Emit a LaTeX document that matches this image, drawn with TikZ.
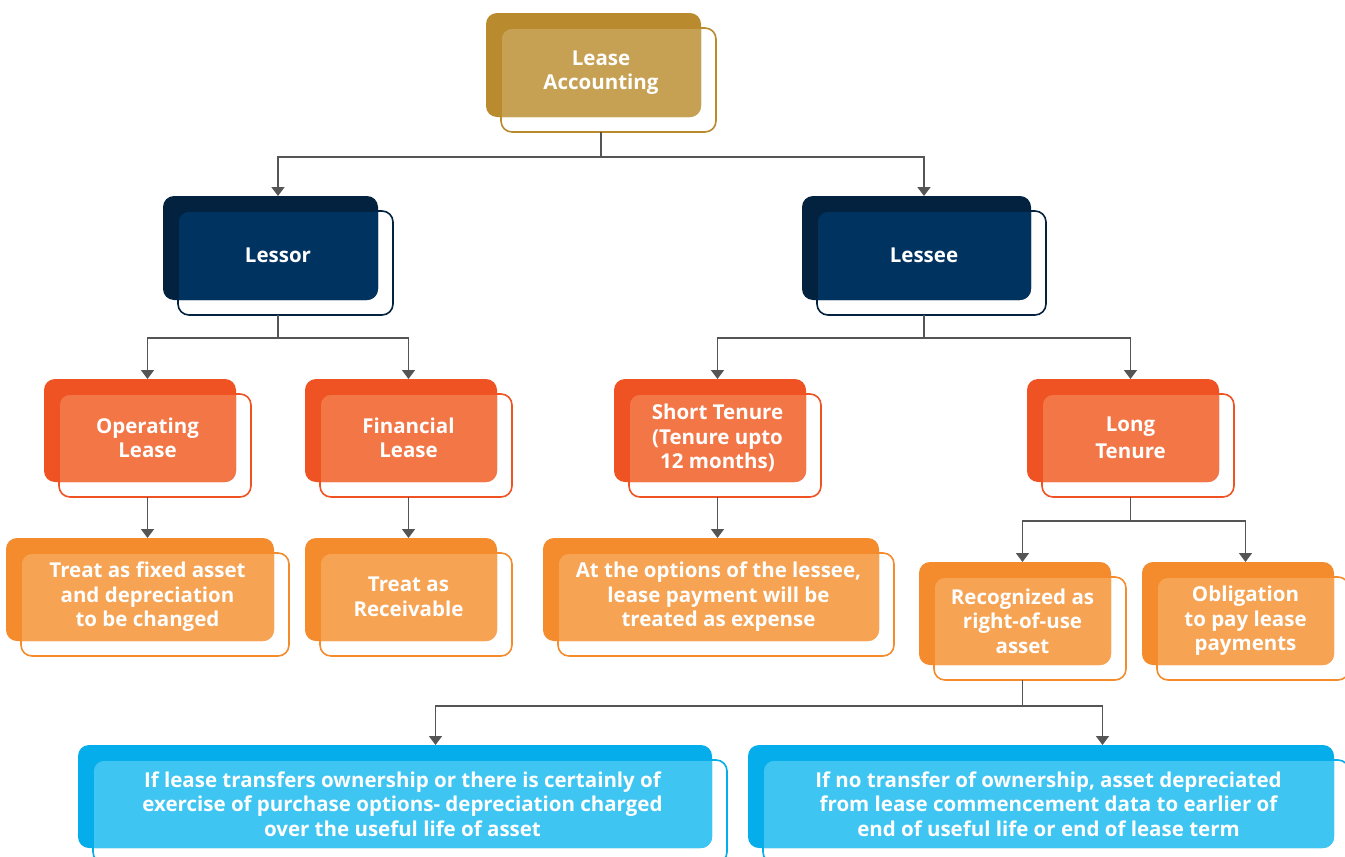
\documentclass[tikz,border=0pt]{standalone}
\usepackage{fontspec}
\setmainfont{Open Sans}
\usetikzlibrary{arrows.meta,calc}
\definecolor{goldD}{HTML}{B98B2E}
\definecolor{goldL}{HTML}{C6A153}
\definecolor{navyD}{HTML}{02223F}
\definecolor{navyL}{HTML}{013361}
\definecolor{redD}{HTML}{F05323}
\definecolor{redL}{HTML}{F37647}
\definecolor{orD}{HTML}{F48B2C}
\definecolor{orL}{HTML}{F6A354}
\definecolor{blD}{HTML}{05AEEB}
\definecolor{blL}{HTML}{3EC5F1}
\definecolor{lineC}{HTML}{555555}
\tikzset{
  conn/.style={draw=lineC, line width=1.8pt, -{Triangle[width=13pt,length=9pt]}},
  plain/.style={draw=lineC, line width=1.8pt},
  boxtext/.style={text=white, font=\bfseries\fontsize{20.5}{24.5}\selectfont, align=center, inner sep=0pt},
}
% #1 name, #2 x1, #3 y1, #4 x2, #5 y2 (back rectangle), #6 dark, #7 light, #8 text
\newcommand\leasebox[8]{%
  \fill[#6, rounded corners=11pt] (#2,#3) rectangle (#4,#5);
  \begin{scope}
    \clip[rounded corners=11pt] (#2,#3) rectangle (#4,#5);
    \fill[#7, rounded corners=11pt] (#2+15,#3+15) rectangle (#4+15,#5+15);
  \end{scope}
  \draw[#6, line width=1.6pt, rounded corners=11pt] (#2+15,#3+15) rectangle (#4+15,#5+15);
  \node[boxtext] (#1) at ({(#2+15+#4)/2},{(#3+15+#5)/2}) {#8};
  \coordinate (#1-t) at ({(#2+#4+15)/2},#3);
  \coordinate (#1-b) at ({(#2+#4+15)/2},#5+15);
}
\begin{document}
\begin{tikzpicture}[x=1pt,y=-1pt]
\useasboundingbox (0,0) rectangle (1345,857);
\fill[white] (0,0) rectangle (1345,857);

\leasebox{la}{486}{13}{701}{117}{goldD}{goldL}{Lease\\Accounting}
\leasebox{lessor}{163}{196}{378}{300}{navyD}{navyL}{Lessor}
\leasebox{lessee}{802}{196}{1031}{300}{navyD}{navyL}{Lessee}

\leasebox{op}{44}{379}{236}{482}{redD}{redL}{Operating\\Lease}
\leasebox{fin}{305}{379}{497}{482}{redD}{redL}{Financial\\Lease}
\leasebox{short}{614}{379}{806}{482}{redD}{redL}{Short Tenure\\(Tenure upto\\12 months)}
\leasebox{long}{1027}{379}{1219}{482}{redD}{redL}{Long\\[3pt]Tenure}

\leasebox{fixed}{6}{538}{274}{641}{orD}{orL}{Treat as fixed asset\\and depreciation\\to be changed}
\leasebox{recv}{305}{538}{497}{641}{orD}{orL}{Treat as\\Receivable}
\leasebox{opt}{543}{538}{879}{641}{orD}{orL}{At the options of the lessee,\\lease payment will be\\treated as expense}
\leasebox{rou}{919}{562}{1111}{665}{orD}{orL}{Recognized as\\right-of-use\\asset}
\leasebox{obl}{1142}{562}{1334}{665}{orD}{orL}{Obligation\\to pay lease\\payments}

\leasebox{tr}{78}{745}{712}{848}{blD}{blL}{If lease transfers ownership or there is certainly of\\exercise of purchase options- depreciation charged\\over the useful life of asset}
\leasebox{ntr}{748}{745}{1334}{848}{blD}{blL}{If no transfer of ownership, asset depreciated\\from lease commencement data to earlier of\\end of useful life or end of lease term}

\draw[plain] (la-b) -- ++(0,25) coordinate (j1);
\draw[conn] (j1) -| (lessor-t);
\draw[conn] (j1) -| (lessee-t);

\draw[plain] (lessor-b) -- ++(0,23) coordinate (j2);
\draw[conn] (j2) -| (op-t);
\draw[conn] (j2) -| (fin-t);

\draw[plain] (lessee-b) -- ++(0,23) coordinate (j3);
\draw[conn] (j3) -| (short-t);
\draw[conn] (j3) -| (long-t);

\draw[conn] (op-b) -- (op-b |- fixed-t);
\draw[conn] (fin-b) -- (fin-b |- recv-t);
\draw[conn] (short-b) -- (short-b |- opt-t);

\draw[plain] (long-b) -- ++(0,24) coordinate (j4);
\draw[conn] (j4) -| (rou-t);
\draw[conn] (j4) -| (obl-t);

\draw[plain] (rou-b) -- ++(0,26) coordinate (j5);
\draw[conn] (j5) -| ($(tr-t)+(33,0)$);
\draw[conn] (j5) -| ($(ntr-t)+(54,0)$);
\end{tikzpicture}
\end{document}
